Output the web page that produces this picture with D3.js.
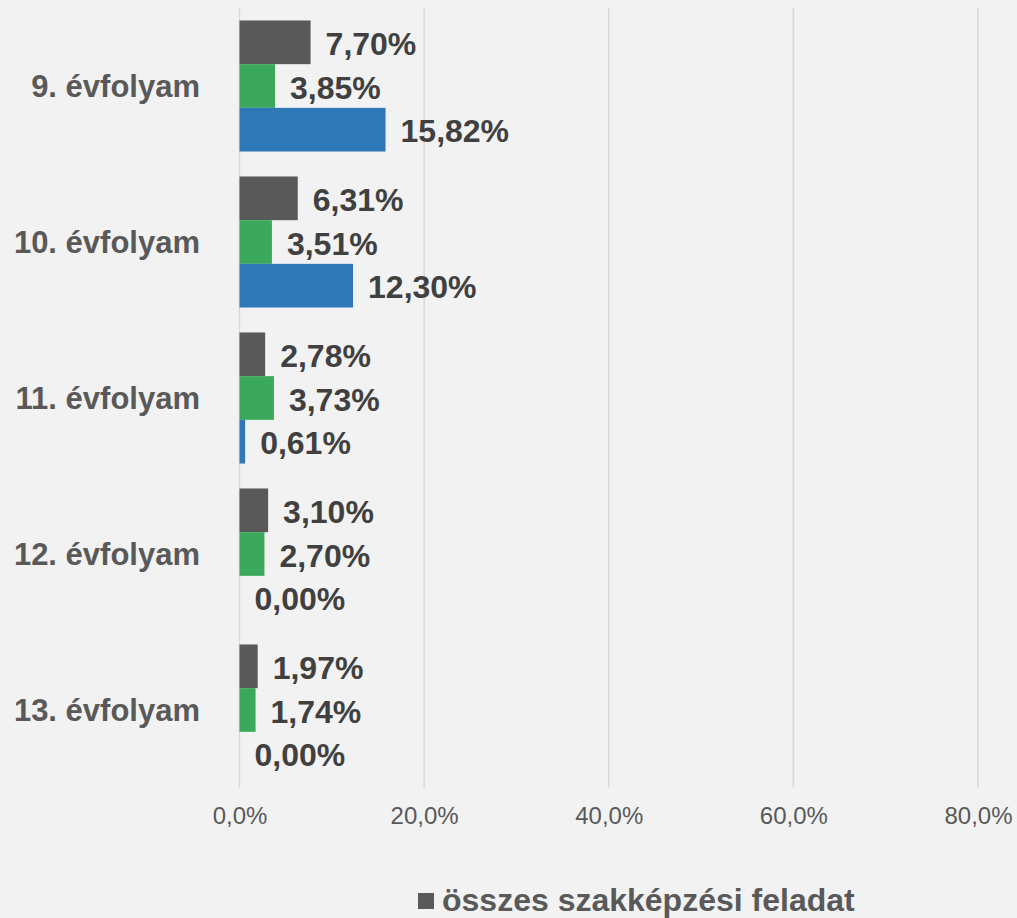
<!DOCTYPE html>
<html>
<head>
<meta charset="utf-8">
<script src="https://cdn.jsdelivr.net/npm/d3@7"></script>
<style>
  body { margin: 0; background: #f2f2f2; }
  svg { display: block; font-family: "Liberation Sans", Arial, sans-serif; }
</style>
</head>
<body>
<div id="chart"></div>
<script>
var svgWidth = 1017;
var svgHeight = 918;

// data
var categories = ['9. évfolyam', '10. évfolyam', '11. évfolyam', '12. évfolyam', '13. évfolyam'];
var seriesNames = ['összes szakképzési feladat', 'sorozat 2', 'sorozat 3'];
var seriesColors = ['#595959', '#3ba85b', '#2e78b8'];
var totalValues = [7.70, 6.31, 2.78, 3.10, 1.97];
var greenValues = [3.85, 3.51, 3.73, 2.70, 1.74];
var blueValues = [15.82, 12.30, 0.61, 0.00, 0.00];
var xTicks = [0, 20, 40, 60, 80];

var seriesValues = [totalValues, greenValues, blueValues];

var svg = d3.select('#chart')
  .append('svg')
  .attr('width', svgWidth)
  .attr('height', svgHeight);

svg.append('rect')
  .attr('width', svgWidth)
  .attr('height', svgHeight)
  .attr('fill', '#f2f2f2');

var xScale = d3.scaleLinear()
  .domain([0, 80])
  .range([239.5, 978]);

var yScale = d3.scaleBand()
  .domain(categories)
  .range([8, 788])
  .paddingInner(0.16)
  .paddingOuter(0.08);

var subScale = d3.scaleBand()
  .domain(d3.range(seriesNames.length))
  .range([0, yScale.bandwidth()]);

// gridlines
svg.append('g')
  .selectAll('line')
  .data(xTicks)
  .enter()
  .append('line')
  .attr('x1', d => xScale(d))
  .attr('x2', d => xScale(d))
  .attr('y1', 8)
  .attr('y2', 788)
  .attr('stroke', '#d9d9d9')
  .attr('stroke-width', 1.5);

// x axis labels
var fmtTick = d => d.toFixed(1).replace('.', ',') + '%';
var xAxis = d3.axisBottom(xScale)
  .tickValues(xTicks)
  .tickSize(0)
  .tickPadding(0)
  .tickFormat(fmtTick);

var xAxisGroup = svg.append('g')
  .attr('transform', 'translate(0, 824)')
  .call(xAxis);
xAxisGroup.select('.domain').remove();
xAxisGroup.selectAll('text')
  .attr('dy', 0)
  .attr('font-size', '24px')
  .attr('font-family', '"Liberation Sans", Arial, sans-serif')
  .attr('fill', '#595959');

// category labels
svg.append('g')
  .selectAll('text')
  .data(categories)
  .enter()
  .append('text')
  .attr('x', 200)
  .attr('y', d => yScale(d) + yScale.bandwidth() / 2)
  .attr('dy', '0.35em')
  .attr('text-anchor', 'end')
  .attr('font-size', '31px')
  .attr('font-weight', 'bold')
  .attr('fill', '#595959')
  .text(d => d);

// bars and value labels
var fmtValue = d => d.toFixed(2).replace('.', ',') + '%';

seriesValues.forEach(function(values, s) {
  var g = svg.append('g');

  g.selectAll('rect')
    .data(values)
    .enter()
    .append('rect')
    .attr('x', xScale(0))
    .attr('y', (d, i) => yScale(categories[i]) + subScale(s))
    .attr('width', d => xScale(d) - xScale(0))
    .attr('height', subScale.bandwidth())
    .attr('fill', seriesColors[s]);

  g.selectAll('text')
    .data(values)
    .enter()
    .append('text')
    .attr('x', d => xScale(d) + 15)
    .attr('y', (d, i) => yScale(categories[i]) + subScale(s) + subScale.bandwidth() / 2)
    .attr('dy', '0.4em')
    .attr('font-size', '32px')
    .attr('font-weight', 'bold')
    .attr('fill', '#404040')
    .text(d => fmtValue(d));
});

// legend (only first entry fits in the picture)
var legend = svg.append('g')
  .attr('transform', 'translate(418, 893)');

legend.append('rect')
  .attr('width', 16)
  .attr('height', 16)
  .attr('fill', seriesColors[0]);

legend.append('text')
  .attr('x', 24)
  .attr('y', 18)
  .attr('font-size', '32px')
  .attr('font-weight', 'bold')
  .attr('fill', '#595959')
  .text(seriesNames[0]);
</script>
</body>
</html>
